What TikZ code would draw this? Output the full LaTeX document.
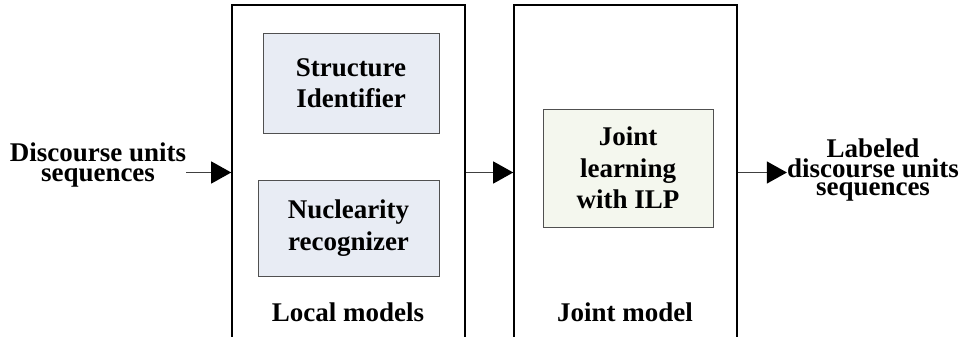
\documentclass[tikz,border=0pt]{standalone}
\usepackage{fontspec}
\setmainfont{Liberation Serif}
\usepackage{xcolor}
\definecolor{gray-700}{RGB}{64,64,64}
\definecolor{gray-600}{RGB}{80,80,80}
\definecolor{blue-100}{RGB}{232,236,244}
\definecolor{green-50}{RGB}{244,247,238}
\usepackage{tikz}
\usetikzlibrary{arrows.meta,positioning}

\begin{document}
\begin{tikzpicture}[
    stage box/.style={
        draw=black,
        line width=1.1pt,
        fill=white,
        minimum width=#1,
        minimum height=8.375cm,
        inner sep=0pt
    },
    model box/.style={
        draw=gray-600,
        line width=0.7pt,
        fill=blue-100,
        font=\fontsize{19.2}{22.4}\selectfont\bfseries,
        align=center
    },
    stage label/.style={
        font=\fontsize{19.2}{22.4}\selectfont\bfseries,
        inner sep=0pt
    },
    io text/.style={
        font=\fontsize{19.2}{#1}\selectfont\bfseries,
        align=center,
        inner sep=0pt
    },
    arrow/.style={-{Triangle[length=0.5cm,width=0.55cm,black]}, gray-700, line width=0.8pt}
]
\useasboundingbox (0,0) rectangle (24.075,8.4);

% === STAGE BOXES ===
\node[stage box=5.825cm] (local) at (8.7125,4.0875) {};
\node[stage box=5.575cm] (joint) at (15.6375,4.0875) {};

% === LOCAL MODELS ===
\node[model box, minimum width=4.4cm, minimum height=2.5cm] (struct) at (8.775,6.325) {
    Structure\\Identifier
};
\node[model box, minimum width=4.525cm, minimum height=2.4cm] (nucl) at (8.7125,2.7) {
    Nuclearity\\recognizer
};
\node[stage label] (locallabel) at (8.7,0.6) {Local models};

% === JOINT MODEL ===
\node[model box, fill=green-50, minimum width=4.25cm, minimum height=2.95cm] (ilp) at (15.7,4.2) {
    Joint\\learning\\with ILP
};
\node[stage label] (jointlabel) at (15.625,0.6) {Joint model};

% === INPUT / OUTPUT ===
\node[io text=14.2] (input) at (2.45,4.275) {
    Discourse units\\sequences
};
\node[io text=12.4] (output) at (21.825,4.15) {
    Labeled\\discourse units\\sequences
};

% === ARROWS ===
\draw[arrow] (input.east |- local.west) -- (local.west);
\draw[arrow] (local.east) -- (joint.west);
\draw[arrow] (joint.east) -- (joint.east -| output.west);

\end{tikzpicture}
\end{document}
